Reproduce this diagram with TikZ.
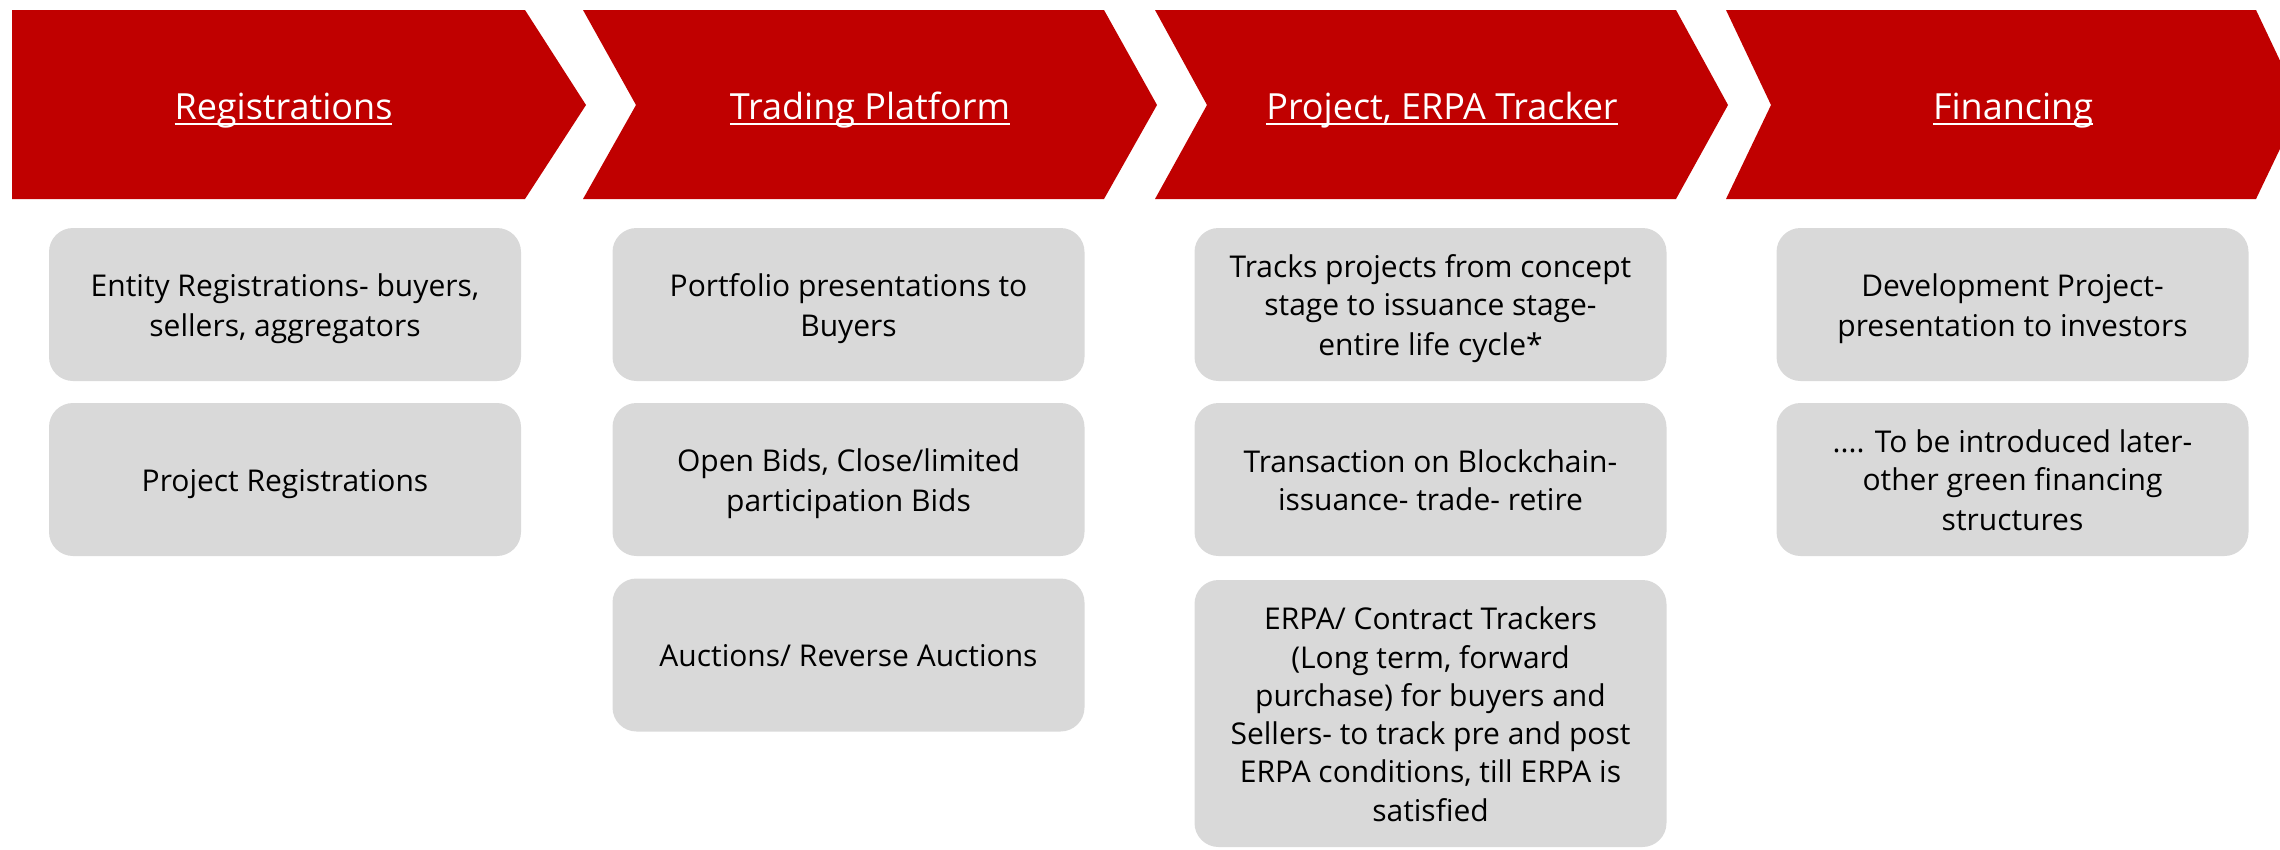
\documentclass[tikz,border=0pt]{standalone}
\usepackage{fontspec}
\setmainfont{Open Sans}
\definecolor{chevred}{HTML}{C00000}
\definecolor{boxgray}{HTML}{D9D9D9}
% underlined heading: rule just below the baseline, crossing descenders
\newsavebox{\hdbox}
\newcommand{\hdline}[1]{\sbox{\hdbox}{#1}\rlap{\vrule height -3.5pt depth 5.5pt width \wd\hdbox}\usebox{\hdbox}}
% line strut so every card text block is centred on whole line slots
\newcommand{\cs}{\rule[-0.187\baselineskip]{0pt}{\baselineskip}}
\tikzset{
  chevron/.style={fill=chevred},
  heading/.style={text=white, font=\fontsize{36}{44}\selectfont, anchor=base, inner sep=0pt},
  card/.style={fill=boxgray, rounded corners=24pt, minimum width=472pt, minimum height=153pt,
    align=center, inner sep=0pt, font=\fontsize{30}{38.3}\selectfont, text=black},
}
\begin{document}
\begin{tikzpicture}[x=1pt,y=-1pt]
\useasboundingbox (0,0) rectangle (2280,849);
\begin{scope}
\clip (0,0) rectangle (2280,849);
% process chevrons
\fill[chevron] (12,10) -- (525,10) -- (586,105) -- (525,199) -- (12,199) -- cycle;
\fill[chevron] (583,10) -- (1104,10) -- (1157,105) -- (1104,199) -- (583,199) -- (636,105) -- cycle;
\fill[chevron] (1155,10) -- (1676,10) -- (1728,105) -- (1676,199) -- (1155,199) -- (1207,105) -- cycle;
\fill[chevron] (1726,10) -- (2256,10) -- (2301,105) -- (2256,199) -- (1726,199) -- (1771,105) -- cycle;
\end{scope}
% headings
\node[heading] (h1) at (283.5,119) {\hdline{Registrations}};
\node[heading] (h2) at (870,119) {\hdline{Trading Platform}};
\node[heading] (h3) at (1442,119) {\hdline{Project, ERPA Tracker}};
\node[heading] (h4) at (2013,119) {\hdline{Financing}};
% Registrations
\node[card] (r1) at (285,304.5) {\cs Entity Registrations- buyers,\\sellers, aggregators\cs};
\node[card] (r2) at (285,479.5) {\cs Project Registrations\cs};
% Trading platform
\node[card] (t1) at (848.5,304.5) {\cs Portfolio presentations to\\Buyers\cs};
\node[card] (t2) at (848.5,479.5) {\cs Open Bids, Close/limited\\participation Bids\cs};
\node[card] (t3) at (848.5,655) {\cs Auctions/ Reverse Auctions\cs};
% Project, ERPA tracker
\node[card] (p1) at (1430.5,304.5) {\cs Tracks projects from concept\\stage to issuance stage-\\entire life cycle*\cs};
\node[card] (p2) at (1430.5,479.5) {\cs Transaction on Blockchain-\\issuance- trade- retire\cs};
\node[card, minimum height=267pt] (p3) at (1430.5,713.5) {\cs ERPA/ Contract Trackers\\(Long term, forward\\purchase) for buyers and\\Sellers- to track pre and post\\ERPA conditions, till ERPA is\\satisfied\cs};
% Financing
\node[card] (f1) at (2012.5,304.5) {\cs Development Project-\\presentation to investors\cs};
\node[card] (f2) at (2012.5,479.5) {\cs .... To be introduced later-\\other green financing\\structures\cs};
\end{tikzpicture}
\end{document}
